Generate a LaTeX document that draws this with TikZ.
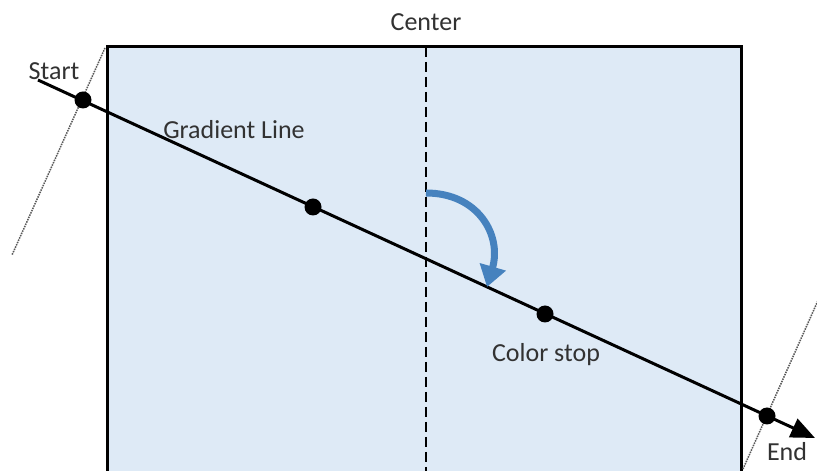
\documentclass[tikz,border=0pt]{standalone}
\usepackage{fontspec}
\setmainfont{Carlito}
\usetikzlibrary{arrows.meta}
\definecolor{boxfill}{RGB}{222,234,246}
\definecolor{arcblue}{RGB}{70,130,190}
\definecolor{txt}{RGB}{50,50,50}
\begin{document}
\begin{tikzpicture}[x=1pt,y=1pt,
  lbl/.style={font=\fontsize{26}{30}\selectfont, text=txt, inner sep=0pt},
  stopdot/.style={circle, fill=black, minimum size=17pt, inner sep=0pt},
  guide/.style={densely dotted, line width=1.5pt, black!65},
  gline/.style={line width=3pt, -{Triangle[width=20pt,length=24pt]}}]
\useasboundingbox (0,0) rectangle (817,471);
\clip (0,0) rectangle (817,471);
\fill[white] (0,0) rectangle (817,471);
% box
\filldraw[fill=boxfill, draw=black, line width=3pt] (107,-20) rectangle (741,424);
% center dashed line
\coordinate (ctop) at (426,424);
\coordinate (cbot) at (426,-5);
\draw[line width=2pt, dash pattern=on 10pt off 5pt] (ctop) -- (cbot);
% guides
\coordinate (g1a) at (105,423);
\coordinate (g1b) at (12,216);
\coordinate (g2a) at (743,2);
\coordinate (g2b) at (820,175);
\draw[guide] (g1a) -- (g1b);
\draw[guide] (g2a) -- (g2b);
% gradient line
\coordinate (ls) at (38,391);
\coordinate (le) at (815,33);
\draw[gline] (ls) -- (le);
% dots
\node[stopdot] (d1) at (83,371) {};
\node[stopdot] (d2) at (313,264) {};
\node[stopdot] (d3) at (545,157) {};
\node[stopdot] (d4) at (767,55) {};
% blue arc
\coordinate (as) at (426,278);
\coordinate (ae) at (487,184);
\draw[arcblue, line width=7pt, -{Triangle[width=26pt,length=21pt]}] (as) .. controls (478,278) and (502,236) .. (ae);
% labels
\node[lbl] (tstart) at (54,400) {Start};
\node[lbl] (tcenter) at (426,449) {Center};
\node[lbl] (tgrad) at (234,341) {Gradient Line};
\node[lbl] (tcolor) at (546,116) {Color stop};
\node[lbl] (tend) at (787,19) {End};
\end{tikzpicture}
\end{document}
